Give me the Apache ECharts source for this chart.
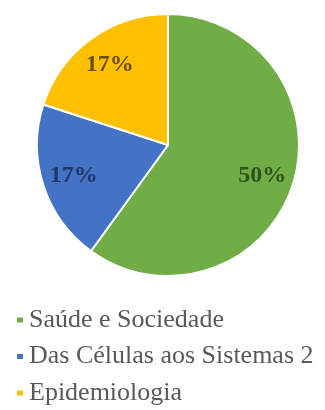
<!DOCTYPE html>
<html>
<head>
<meta charset="utf-8">
<script src="https://cdn.jsdelivr.net/npm/echarts@6/dist/echarts.min.js"></script>
<style>
  html, body { margin: 0; padding: 0; background: #fff; }
</style>
</head>
<body>
<div id="chart" style="width: 325px; height: 410px;"></div>

<script>
  // dados do gráfico
  var categories = ['Saúde e Sociedade', 'Das Células aos Sistemas 2', 'Epidemiologia'];
  var values = [3, 1, 1];
  var labelTexts = ['50%', '17%', '17%'];
  var colors = ['#70ad47', '#4472c4', '#ffc000'];
  var labelColors = ['#2f5219', '#1f3868', '#6b4e0a'];

  var App = {};

  App.init = function(){
    var _this = this;

    _this.F_loadChart = function(){
      var chart = echarts.init(document.getElementById('chart'));

      var pieData = categories.map(function(name, i){
        return { name: name, value: values[i], itemStyle: { color: colors[i] } };
      });

      // a second transparent ring just for the labels (sits further out than 'inside')
      var labelData = categories.map(function(name, i){
        return {
          name: name,
          value: values[i],
          itemStyle: { color: 'rgba(0,0,0,0)', borderWidth: 0 },
          label: { formatter: labelTexts[i], color: labelColors[i] }
        };
      });

      var option = {
        animation: false,
        textStyle: { fontFamily: 'Times New Roman, Liberation Serif, serif' },
        legend: {
          orient: 'vertical',
          left: 15,
          top: 307,
          width: 310,
          height: 140,
          padding: 0,
          icon: 'rect',
          itemWidth: 8,
          itemHeight: 7,
          itemGap: 10.5,
          data: categories,
          textStyle: {
            fontFamily: 'Times New Roman, Liberation Serif, serif',
            fontWeight: 'normal',
            fontSize: 26,
            lineHeight: 26,
            color: '#595959'
          }
        },
        series: [
          {
            type: 'pie',
            center: [168, 145],
            radius: [0, 131],
            startAngle: 90,
            clockwise: true,
            silent: true,
            label: { show: false },
            labelLine: { show: false },
            itemStyle: { borderColor: '#fff', borderWidth: 2 },
            data: pieData
          },
          {
            type: 'pie',
            center: [168, 145],
            radius: [61, 131],
            startAngle: 90,
            clockwise: true,
            silent: true,
            legendHoverLink: false,
            label: {
              show: true,
              position: 'inside',
              fontFamily: 'Times New Roman, Liberation Serif, serif',
              fontWeight: 'bold',
              fontSize: 24
            },
            labelLine: { show: false },
            data: labelData
          }
        ]
      };

      chart.setOption(option);
    };

    _this.F_loadChart();
  };

  App.init();
</script>
</body>
</html>
